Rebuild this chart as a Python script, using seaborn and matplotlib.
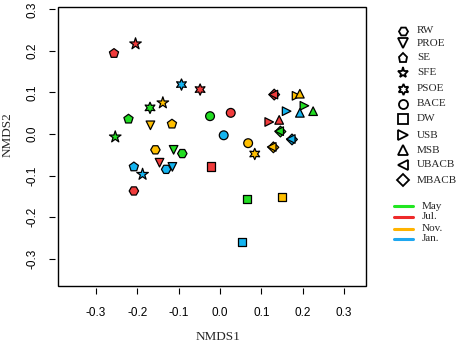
import matplotlib
matplotlib.use("Agg")
import matplotlib.pyplot as plt
from matplotlib.lines import Line2D
from matplotlib.patches import Rectangle
import seaborn as sns
import pandas as pd

sns.set_style("white")
plt.rcParams["axes.unicode_minus"] = False
plt.rcParams["font.family"] = ["Liberation Sans", "DejaVu Sans"]

# ---- data -------------------------------------------------------------
sites = ["RW", "PROE", "SE", "SFE", "PSOE", "BACE", "DW", "USB", "MSB", "UBACB", "MBACB"]
months = ["May", "Jul.", "Nov.", "Jan."]

# NMDS coordinates per site, order of months: May, Jul., Nov., Jan.
nmds1 = {
    "RW":    [-0.091, -0.208, -0.156, -0.130],
    "PROE":  [-0.112, -0.146, -0.168, -0.115],
    "SE":    [-0.221, -0.256, -0.116, -0.208],
    "SFE":   [-0.253, -0.204, -0.138, -0.187],
    "PSOE":  [-0.169, -0.048,  0.084, -0.093],
    "BACE":  [-0.024,  0.026,  0.068,  0.009],
    "DW":    [ 0.065, -0.021,  0.150,  0.053],
    "USB":   [ 0.204,  0.119,  0.185,  0.161],
    "MSB":   [ 0.225,  0.143,  0.193,  0.193],
    "MBACB": [ 0.146,  0.131,  0.129,  0.174],
    "UBACB": [ 0.143,  0.129,  0.125,  0.171],
}
nmds2 = {
    "RW":    [-0.047, -0.137, -0.038, -0.085],
    "PROE":  [-0.038, -0.069,  0.021, -0.079],
    "SE":    [ 0.036,  0.194,  0.024, -0.079],
    "SFE":   [-0.007,  0.217,  0.075, -0.097],
    "PSOE":  [ 0.063,  0.107, -0.048,  0.119],
    "BACE":  [ 0.043,  0.051, -0.022, -0.003],
    "DW":    [-0.156, -0.078, -0.152, -0.260],
    "USB":   [ 0.068,  0.029,  0.092,  0.055],
    "MSB":   [ 0.055,  0.034,  0.097,  0.051],
    "MBACB": [ 0.006,  0.095, -0.032, -0.013],
    "UBACB": [ 0.007,  0.095, -0.031, -0.012],
}
month_colors = ["#22DD22", "#F03C3C", "#FFBF00", "#14B4F0"]
legend_line_colors = ["#22E622", "#EE2A2A", "#FFB300", "#1EA7F0"]
tick_values = [-0.3, -0.2, -0.1, 0.0, 0.1, 0.2, 0.3]
tick_labels = ["-0.3", "-0.2", "-0.1", "0.0", "0.1", "0.2", "0.3"]

star6 = (6, 1, 0)
site_markers = {"RW": "H", "PROE": "v", "SE": "p", "SFE": "*", "PSOE": star6,
                "BACE": "o", "DW": "s", "USB": ">", "MSB": "^",
                "UBACB": "<", "MBACB": "D"}
site_sizes = {"RW": 46, "PROE": 38, "SE": 48, "SFE": 76, "PSOE": 66,
              "BACE": 40, "DW": 36, "USB": 38, "MSB": 38, "UBACB": 38, "MBACB": 30}

rows = []
for s in nmds1:
    for m, x, y in zip(months, nmds1[s], nmds2[s]):
        rows.append({"site": s, "month": m, "NMDS1": x, "NMDS2": y})
df = pd.DataFrame(rows)

# ---- figure -----------------------------------------------------------
W, H = 459, 345
fig = plt.figure(figsize=(W / 100, H / 100), dpi=100)
ax_l, ax_r, ax_t, ax_b = 57.7, 365.7, 7.3, 285.7
ax = fig.add_axes([ax_l / W, 1 - ax_b / H, (ax_r - ax_l) / W, (ax_b - ax_t) / H])

for sp in ax.spines.values():
    sp.set_visible(False)
ax.spines["left"].set_position(("outward", 1.8))
ax.spines["bottom"].set_position(("outward", 1.8))

palette = dict(zip(months, month_colors))
for s in nmds1:
    sub = df[df["site"] == s]
    sns.scatterplot(data=sub, x="NMDS1", y="NMDS2", hue="month", palette=palette,
                    hue_order=months, marker=site_markers[s], s=site_sizes[s],
                    edgecolor="black", linewidth=0.9, legend=False, ax=ax, zorder=3)

ax.set_xlim(-0.392, 0.352)
ax.set_ylim(-0.365, 0.305)
ax.set_xticks(tick_values)
ax.set_yticks(tick_values)
ax.set_xticklabels(tick_labels)
ax.set_yticklabels(tick_labels)
ax.tick_params(axis="both", direction="out", length=4.2, width=0.8, color="black",
               left=True, bottom=True, labelsize=8.5, labelcolor="black")
ax.tick_params(axis="x", pad=9.5)
ax.tick_params(axis="y", pad=7.5, labelrotation=90)
for lab in ax.get_yticklabels():
    lab.set_va("center")
    lab.set_family(["Liberation Sans", "DejaVu Sans"])
for lab in ax.get_xticklabels():
    lab.set_family(["Liberation Sans", "DejaVu Sans"])

ax.add_patch(Rectangle((0, 0), 1, 1, transform=ax.transAxes, fill=False,
                       lw=1.0, edgecolor="black", clip_on=False, zorder=5))

ax.set_xlabel("NMDS1", fontsize=9.5, family=["Liberation Serif", "DejaVu Serif"])
ax.set_ylabel("NMDS2", fontsize=9.5, family=["Liberation Serif", "DejaVu Serif"])
ax.xaxis.label.set_va("center")
ax.yaxis.label.set_va("center")
ax.xaxis.set_label_coords((218 - ax_l) / (ax_r - ax_l), (ax_b - 337) / (ax_b - ax_t))
ax.yaxis.set_label_coords((8 - ax_l) / (ax_r - ax_l), (ax_b - 135) / (ax_b - ax_t))

# ---- legends (outside, at right) ---------------------------------------
leg_y = [30.7, 43.3, 58.0, 72.7, 88.7, 104.0, 118.7, 135.3, 150.3, 164.7, 180.3]
for s, y in zip(sites, leg_y):
    fig.add_artist(Line2D([403 / W], [1 - y / H], marker=site_markers[s], linestyle="none",
                          markersize=6.5 if s not in ("SFE", "PSOE") else 8,
                          markerfacecolor="white", markeredgecolor="black",
                          markeredgewidth=1.3, transform=fig.transFigure))
    fig.text(417 / W, 1 - y / H, s, fontsize=8, family=["Liberation Serif", "DejaVu Serif"],
             va="center", ha="left")

col_y = [206.3, 216.7, 228.7, 238.7]
for m, c, y in zip(months, legend_line_colors, col_y):
    fig.add_artist(Line2D([394 / W, 413 / W], [1 - y / H, 1 - y / H], color=c, lw=2.2,
                          transform=fig.transFigure))
    fig.text(421.7 / W, 1 - y / H, m, fontsize=8, family=["Liberation Serif", "DejaVu Serif"],
             va="center", ha="left")

fig.savefig("out.png", dpi=100)
